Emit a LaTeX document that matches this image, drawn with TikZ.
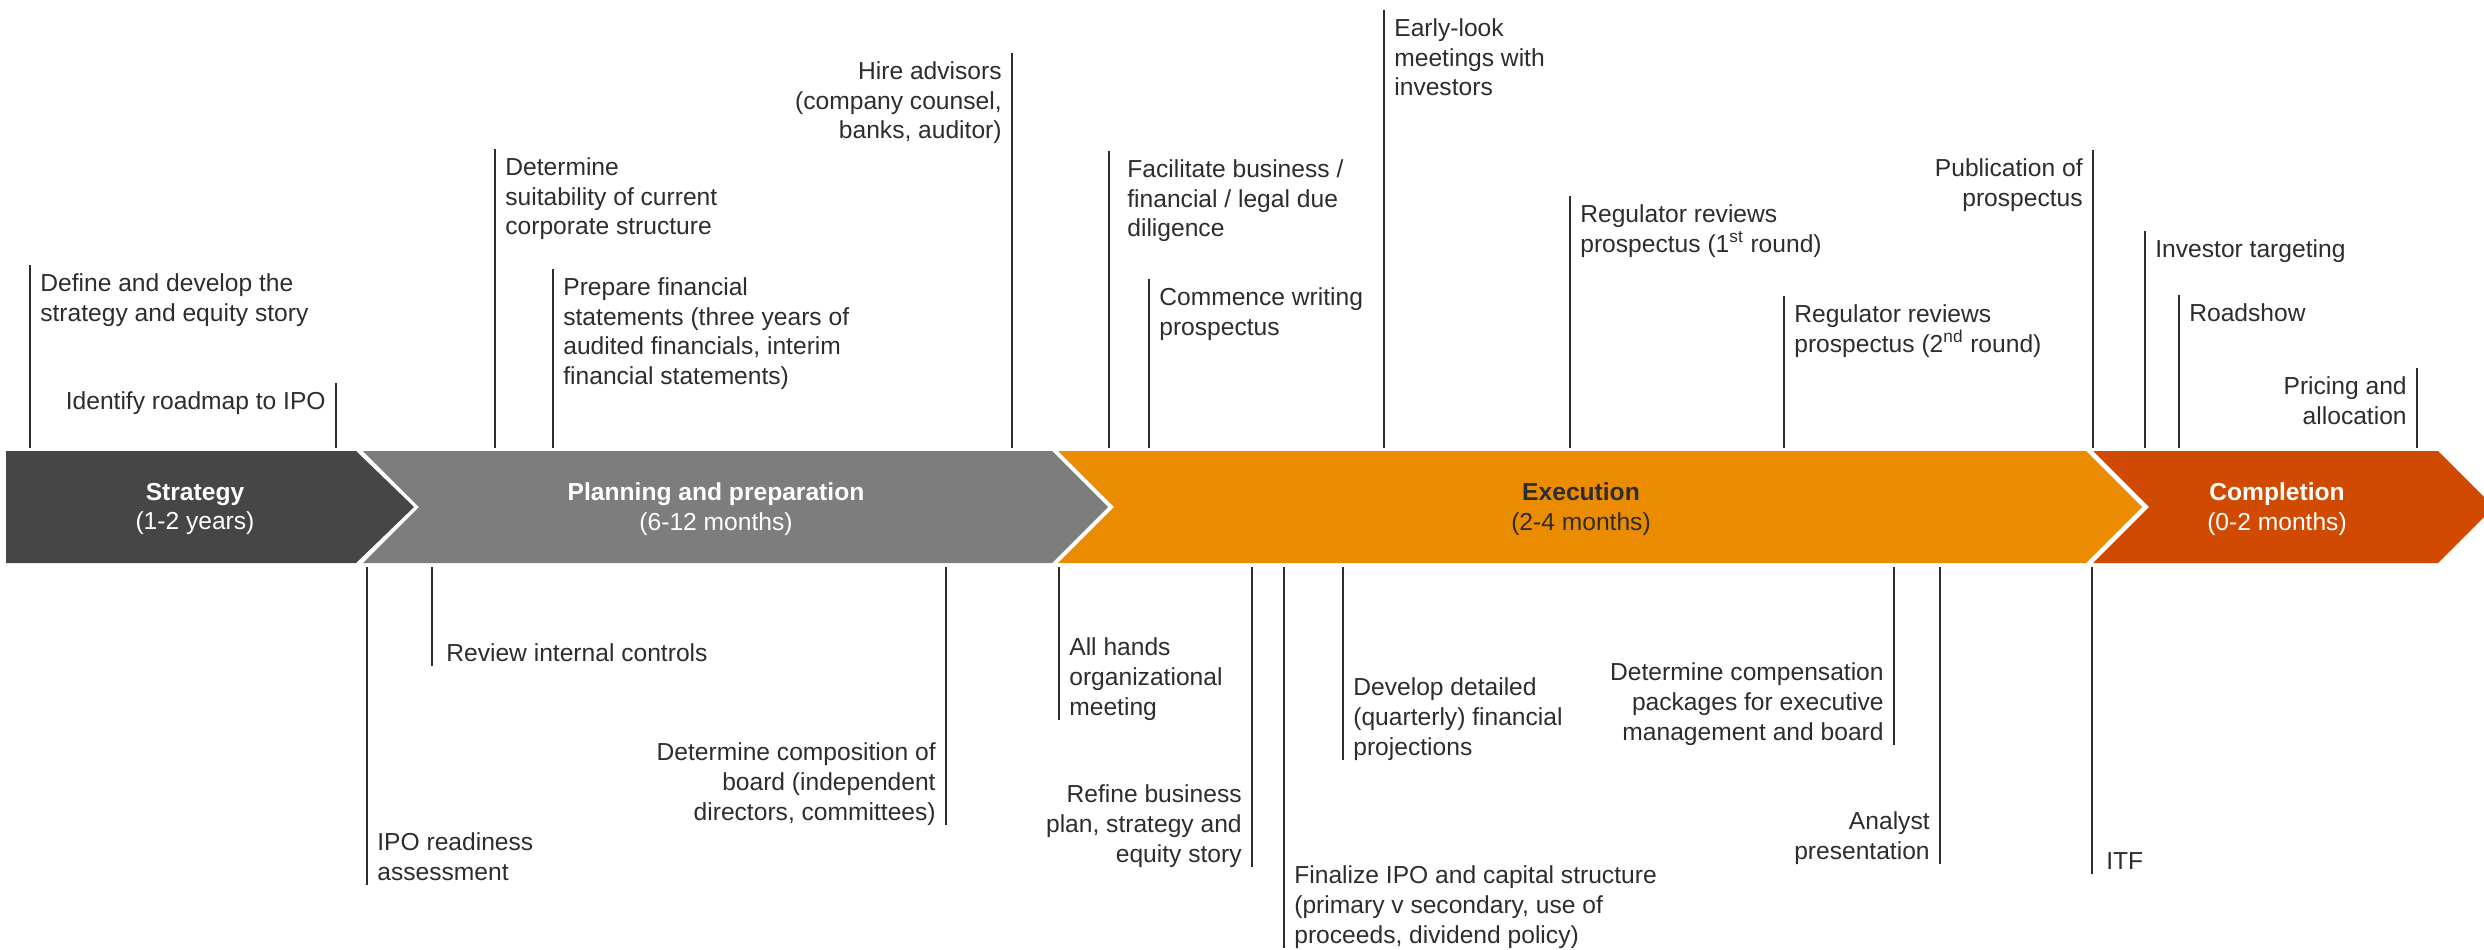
\documentclass[tikz,border=0pt]{standalone}
\usepackage{fontspec}
\setmainfont{Liberation Sans}
\usepackage{tikz}
\usetikzlibrary{positioning}

\definecolor{stratgray}{HTML}{464646}
\definecolor{plangray}{HTML}{7D7D7D}
\definecolor{execorange}{HTML}{EB8C00}
\definecolor{complred}{HTML}{D04A02}
\definecolor{ink}{HTML}{2D2D2D}

\begin{document}
\begin{tikzpicture}[
            x=0.2mm,y=-0.2mm,
            every node/.style={font=\fontsize{14}{17}\selectfont,text=ink},
            evtop/.style={inner xsep=2mm,inner ysep=1.6mm,align=left,anchor=north west},
            evtopr/.style={evtop,align=right,anchor=north east},
            evbot/.style={inner xsep=2mm,inner ysep=0.8mm,text depth=0pt,align=left,anchor=south west},
            evbotr/.style={evbot,align=right,anchor=south east},
            phaselab/.style={align=center,inner sep=0},
            tick/.style={draw=ink,line width=0.7pt}
          ]
          \useasboundingbox (0,0) rectangle (2484,949);

          %phases
          \fill[stratgray] (6,451) -- (356,451) -- (414,507) -- (356,563) -- (6,563) -- cycle;
          \fill[plangray] (363,451) -- (1052,451) -- (1108,507) -- (1052,563) -- (363,563) -- (419,507) -- cycle;
          \fill[execorange] (1058,451) -- (2086,451) -- (2142,507) -- (2086,563) -- (1058,563) -- (1114,507) -- cycle;
          \fill[complred] (2093,451) -- (2438,451) -- (2494,507) -- (2438,563) -- (2093,563) -- (2149,507) -- cycle;
          \coordinate (bandtop) at (0,448);
          \coordinate (bandbot) at (0,567);

          \node[phaselab,text=white] (strategy) at (195,509) {\textbf{Strategy}\\(1-2 years)};
          \node[phaselab,text=white] (planning) at (716,509) {\textbf{Planning and preparation}\\(6-12 months)};
          \node[phaselab] (execution) at (1581,509) {\textbf{Execution}\\(2-4 months)};
          \node[phaselab,text=white] (completion) at (2277,509) {\textbf{Completion}\\(0-2 months)};

          %above the band
          \node[evtop] (define) at (30,265) {Define and develop the\\strategy and equity story};
          \node[evtopr] (roadmap) at (336,383) {Identify roadmap to IPO};
          \node[evtop] (structure) at (495,149) {Determine\\suitability of current\\corporate structure};
          \node[evtop] (financials) at (553,269) {Prepare financial\\statements (three years of\\audited financials, interim\\financial statements)};
          \node[evtopr] (advisors) at (1012,53) {Hire advisors\\(company counsel,\\banks, auditor)};
          \node[evtop,inner xsep=3.6mm] (diligence) at (1109,151) {Facilitate business /\\financial / legal due\\diligence};
          \node[evtop] (writing) at (1149,279) {Commence writing\\prospectus};
          \node[evtop] (earlylook) at (1384,10) {Early-look\\meetings with\\investors};
          \node[evtop] (review1) at (1570,196) {Regulator reviews\\prospectus (1\textsuperscript{st} round)};
          \node[evtop] (review2) at (1784,296) {Regulator reviews\\prospectus (2\textsuperscript{nd} round)};
          \node[evtopr] (publication) at (2093,150) {Publication of\\prospectus};
          \node[evtop] (targeting) at (2145,231) {Investor targeting};
          \node[evtop] (roadshow) at (2179,295) {Roadshow};
          \node[evtopr] (pricing) at (2417,368) {Pricing and\\allocation};

          %below the band
          \node[evbot] (readiness) at (367,885) {IPO readiness\\assessment};
          \node[evbot,inner xsep=2.8mm] (controls) at (432,666) {Review internal controls};
          \node[evbotr] (board) at (946,825) {Determine composition of\\board (independent\\directors, committees)};
          \node[evbot] (allhands) at (1059,720) {All hands\\organizational\\meeting};
          \node[evbotr] (refine) at (1252,867) {Refine business\\plan, strategy and\\equity story};
          \node[evbot] (finalize) at (1284,948) {Finalize IPO and capital structure\\(primary v secondary, use of\\proceeds, dividend policy)};
          \node[evbot] (projections) at (1343,760) {Develop detailed\\(quarterly) financial\\projections};
          \node[evbotr] (compensation) at (1894,745) {Determine compensation\\packages for executive\\management and board};
          \node[evbotr] (analyst) at (1940,864) {Analyst\\presentation};
          \node[evbot,inner xsep=2.8mm] (itf) at (2092,874) {ITF};

          \path[tick]
          (define.north west) edge (define.north west |- bandtop)
          (roadmap.north east) edge (roadmap.north east |- bandtop)
          (structure.north west) edge (structure.north west |- bandtop)
          (financials.north west) edge (financials.north west |- bandtop)
          (advisors.north east) edge (advisors.north east |- bandtop)
          (diligence.north west) edge (diligence.north west |- bandtop)
          (writing.north west) edge (writing.north west |- bandtop)
          (earlylook.north west) edge (earlylook.north west |- bandtop)
          (review1.north west) edge (review1.north west |- bandtop)
          (review2.north west) edge (review2.north west |- bandtop)
          (publication.north east) edge (publication.north east |- bandtop)
          (targeting.north west) edge (targeting.north west |- bandtop)
          (roadshow.north west) edge (roadshow.north west |- bandtop)
          (pricing.north east) edge (pricing.north east |- bandtop)
          (readiness.south west) edge (readiness.south west |- bandbot)
          (controls.south west) edge (controls.south west |- bandbot)
          (board.south east) edge (board.south east |- bandbot)
          (allhands.south west) edge (allhands.south west |- bandbot)
          (refine.south east) edge (refine.south east |- bandbot)
          (finalize.south west) edge (finalize.south west |- bandbot)
          (projections.south west) edge (projections.south west |- bandbot)
          (compensation.south east) edge (compensation.south east |- bandbot)
          (analyst.south east) edge (analyst.south east |- bandbot)
          (itf.south west) edge (itf.south west |- bandbot)
          ;

      \end{tikzpicture}
\end{document}
